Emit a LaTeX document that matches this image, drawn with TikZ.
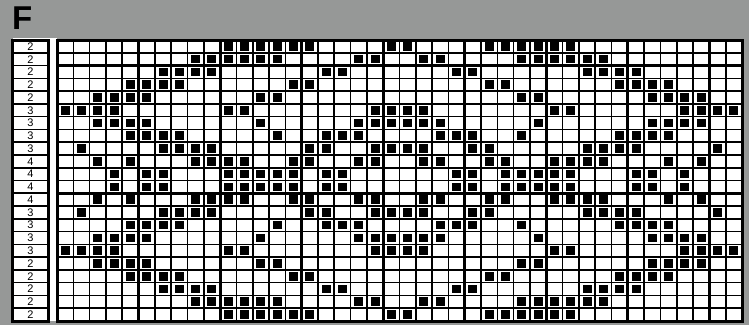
\documentclass[tikz,border=0pt]{standalone}
\usepackage{fontspec}
\newfontfamily\chartfont{Liberation Sans}
\definecolor{scangray}{RGB}{150,152,151}
\newcommand{\cellw}{16.31}
\newcommand{\cellh}{12.77}
\tikzset{
  fine line/.style={line width=1.6pt},
  bold line/.style={line width=3pt},
  stitch/.style={fill=black},
  rowcount/.style={font=\chartfont\fontsize{11}{11}\selectfont, inner sep=0pt},
}
\begin{document}
\begin{tikzpicture}[x=1pt,y=-1pt]
  \fill[scangray] (0,0) rectangle (749,325);
  \useasboundingbox (0,0) rectangle (749,325);
  \node[font=\chartfont\bfseries\fontsize{33}{33}\selectfont,anchor=base west,inner sep=0pt] (chartname) at (12,29) {F};
  % row counts on the left
  \fill[white] (12.7,38) rectangle (57,321);
  \foreach \n [count=\i from 0] in {2,2,2,2,2,3,3,3,3,4,4,4,4,3,3,3,3,2,2,2,2,2}
    \node[rowcount] (count\i) at (30.5,{40+(\i+0.5)*\cellh}) {\n};
  \foreach \j in {1,...,21}
    \draw[fine line] (12.7,{40+\j*\cellh}) -- (48.3,{40+\j*\cellh});
  \draw[bold line] (12.7,40) rectangle (48.3,321);
  % chart grid
  \fill[white] (57,40) rectangle (742,321);
  \foreach \i in {1,...,41}
    \draw[fine line] ({57+\i*\cellw},40) -- ({57+\i*\cellw},321);
  \foreach \j in {1,...,21}
    \draw[fine line] (57,{40+\j*\cellh}) -- (742,{40+\j*\cellh});
  \foreach \i in {5,10,...,40}
    \draw[bold line] ({57+\i*\cellw},40) -- ({57+\i*\cellw},321);
  \foreach \j in {2,12}
    \draw[bold line] (57,{40+\j*\cellh}) -- (742,{40+\j*\cellh});
  \draw[bold line] (57,40) rectangle (742,321);
  % stitches, lower half mirrors the upper half
  \foreach \r/\cs in {
      0/{10,11,12,13,14,15,20,21,26,27,28,29,30,31},
      1/{8,9,10,11,12,13,18,19,22,23,28,29,30,31,32,33},
      2/{6,7,8,9,16,17,24,25,32,33,34,35},
      3/{4,5,6,7,14,15,26,27,34,35,36,37},
      4/{2,3,4,5,12,13,28,29,36,37,38,39},
      5/{0,1,2,3,10,11,19,20,21,22,30,31,38,39,40,41},
      6/{2,3,4,5,12,18,19,20,21,22,23,29,36,37,38,39},
      7/{4,5,6,7,13,16,17,18,23,24,25,28,34,35,36,37},
      8/{1,6,7,8,9,15,16,19,20,21,22,25,26,32,33,34,35,40},
      9/{2,4,8,9,10,11,14,15,18,19,22,23,26,27,30,31,32,33,37,39},
      10/{3,5,6,10,11,12,13,14,16,17,24,25,27,28,29,30,31,35,36,38}}
    \foreach \c in \cs {
      \fill[stitch] ({57+(\c+0.5)*\cellw-4.5},{40+(\r+0.5)*\cellh-4.3}) rectangle +(9,8.6);
      \fill[stitch] ({57+(\c+0.5)*\cellw-4.5},{40+(21-\r+0.5)*\cellh-4.3}) rectangle +(9,8.6);
    }
\end{tikzpicture}
\end{document}
